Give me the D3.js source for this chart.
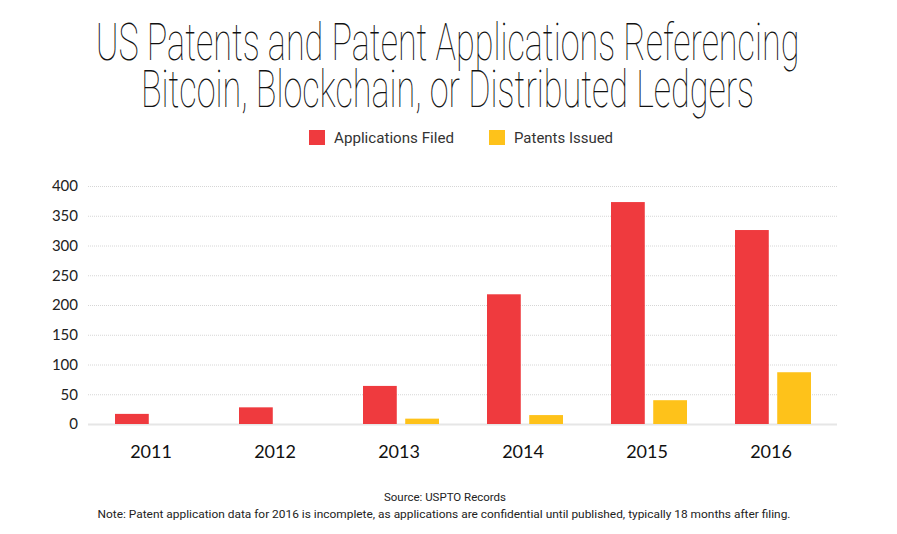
<!DOCTYPE html>
<html>
<head>
<meta charset="utf-8">
<script src="https://cdn.jsdelivr.net/npm/d3@7"></script>
<style>
  body { margin: 0; background: #fff; }
  svg { display: block; }
</style>
</head>
<body>
<div id="chart"></div>
<script>
const years = ['2011', '2012', '2013', '2014', '2015', '2016']
const applicationsFiled = [17, 28, 64, 218, 373, 326]
const patentsIssued = [0, 0, 9, 15, 40, 87]
const seriesNames = ['Applications Filed', 'Patents Issued']
const seriesColors = ['#ef3a3e', '#fec21a']
const yTicks = [0, 50, 100, 150, 200, 250, 300, 350, 400]
const titleLines = ['US Patents and Patent Applications Referencing', 'Bitcoin, Blockchain, or Distributed Ledgers']

const width = 897
const height = 534
const margin = { top: 186, left: 91, right: 56, bottom: 110 }

const svg = d3.select('#chart').append('svg')
  .attr('width', width).attr('height', height)

// title: thin face squeezed sideways and stretched up to look condensed
const titleSize = 38
const titleStretch = 1.36
const titleGap = 47 // px between baselines
const title = svg.append('text')
  .attr('class', 'title')
  .attr('text-anchor', 'middle')
  .attr('font-family', 'Roboto, sans-serif')
  .attr('font-weight', 100)
  .attr('font-size', titleSize)
  .attr('fill', '#111')
title.selectAll('tspan')
  .data(titleLines)
  .join('tspan')
  .attr('x', 0)
  .attr('y', (d, i) => i * titleGap / titleStretch)
  .text(d => d)
const firstLine = title.select('tspan').node().getComputedTextLength()
title.attr('transform', `translate(${width / 2 - 1}, 60) scale(${704 / firstLine}, ${titleStretch})`)

// legend
const legendItems = [
  { name: seriesNames[0], color: seriesColors[0], x: 309, len: 120 },
  { name: seriesNames[1], color: seriesColors[1], x: 489, len: 99 }
]
const legend = svg.selectAll('.legend')
  .data(legendItems)
  .join('g')
  .attr('class', 'legend')
  .attr('transform', d => `translate(${d.x}, 130)`)
legend.append('rect')
  .attr('width', 16).attr('height', 15)
  .attr('fill', d => d.color)
legend.append('text')
  .attr('x', 25).attr('y', 13)
  .attr('font-family', 'Roboto, sans-serif')
  .attr('font-size', 14)
  .attr('fill', '#333')
  .attr('textLength', d => d.len)
  .attr('lengthAdjust', 'spacingAndGlyphs')
  .text(d => d.name)

// scales
const plotBottom = 424
const y = d3.scaleLinear()
  .domain([0, 400])
  .range([plotBottom, margin.top])

const x0 = d3.scaleBand()
  .domain(years)
  .range([margin.left, width - margin.right - 6])

const x1 = d3.scaleBand()
  .domain(seriesNames)
  .range([0, 76])
  .paddingInner(0.2)

// y axis with dotted gridlines
const gridLeft = 88
const gridRight = 837
const yAxis = svg.append('g')
  .attr('transform', `translate(${gridLeft}, 0)`)
  .call(d3.axisLeft(y).tickValues(yTicks)
    .tickSize(-(gridRight - gridLeft)).tickPadding(10))
yAxis.select('.domain').remove()
yAxis.selectAll('.tick line')
  .attr('stroke', d => d === 0 ? '#e6e6e6' : '#d6d6d6')
  .attr('stroke-width', d => d === 0 ? 2 : 1)
  .attr('stroke-dasharray', d => d === 0 ? null : '1,1')
yAxis.selectAll('.tick text')
  .attr('font-family', 'Lato, sans-serif')
  .attr('font-size', 15)
  .attr('fill', '#222')

// bars
const groups = svg.selectAll('.year')
  .data(years)
  .join('g')
  .attr('class', 'year')
  .attr('transform', d => `translate(${x0(d) + (x0.bandwidth() - 76) / 2}, 0)`)

groups.selectAll('rect')
  .data((d, i) => [
    { series: seriesNames[0], val: applicationsFiled[i], color: seriesColors[0] },
    { series: seriesNames[1], val: patentsIssued[i], color: seriesColors[1] }
  ])
  .join('rect')
  .attr('x', d => x1(d.series))
  .attr('width', x1.bandwidth())
  .attr('y', d => y(d.val))
  .attr('height', d => plotBottom - y(d.val))
  .attr('fill', d => d.color)

// x axis labels
const xAxis = svg.append('g')
  .attr('transform', `translate(-2, ${plotBottom})`)
  .call(d3.axisBottom(x0).tickSize(0).tickPadding(21))
xAxis.select('.domain').remove()
xAxis.selectAll('.tick text')
  .attr('font-family', 'Lato, sans-serif')
  .attr('font-size', 18)
  .attr('fill', '#111')

// footnotes
svg.append('text')
  .attr('x', 445).attr('y', 501)
  .attr('text-anchor', 'middle')
  .attr('font-family', 'Roboto, sans-serif')
  .attr('font-size', 11)
  .attr('fill', '#222')
  .attr('textLength', 122)
  .attr('lengthAdjust', 'spacingAndGlyphs')
  .text('Source: USPTO Records')

svg.append('text')
  .attr('x', 444).attr('y', 518)
  .attr('text-anchor', 'middle')
  .attr('font-family', 'Roboto, sans-serif')
  .attr('font-size', 11)
  .attr('fill', '#222')
  .attr('textLength', 693)
  .attr('lengthAdjust', 'spacingAndGlyphs')
  .text('Note: Patent application data for 2016 is incomplete, as applications are confidential until published, typically 18 months after filing.')
</script>
</body>
</html>
